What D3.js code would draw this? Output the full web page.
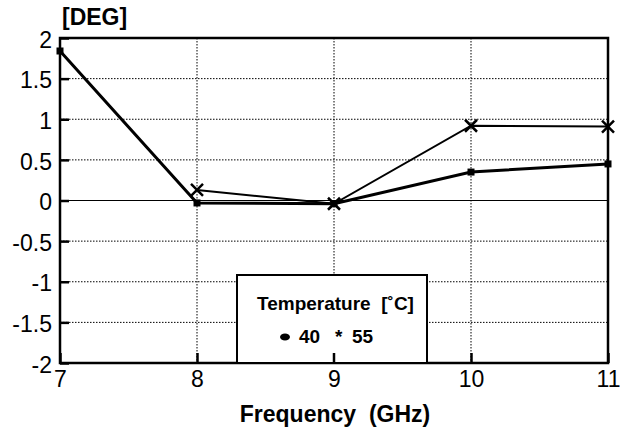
<!DOCTYPE html>
<html><head><meta charset="utf-8">
<script src="https://cdn.jsdelivr.net/npm/d3@7"></script>
<style>body{margin:0;background:#fff}svg{display:block}text{font-family:"Liberation Sans",Arial,sans-serif;fill:#000}</style>
</head><body><svg id="c" width="620" height="429"></svg>
<script>
const freqs = [7, 8, 9, 10, 11];
const s40 = [1.84, -0.03, -0.04, 0.35, 0.45];
const s55 = [null, 0.13, -0.04, 0.92, 0.91];
const yTicks = [-2, -1.5, -1, -0.5, 0, 0.5, 1, 1.5, 2];
const xTicks = [7, 8, 9, 10, 11];
const yLabel = "[DEG]";
const xLabel = "Frequency  (GHz)";
const legendTitle = "Temperature  [˚C]";
const legendLabels = ["40", "*", "55"];

const svg = d3.select("#c");
const L = 60, R = 608, T = 38, B = 363;
const x = d3.scaleLinear().domain([7, 11]).range([L, R]);
const y = d3.scaleLinear().domain([-2, 2]).range([B, T]);

// grid
const g = svg.append("g");
g.selectAll(".hg").data(yTicks.filter(d => d !== 0 && d !== 2 && d !== -2)).join("line")
  .attr("x1", L).attr("x2", R).attr("y1", d => y(d)).attr("y2", d => y(d))
  .attr("stroke", "#000").attr("stroke-width", 1).attr("stroke-dasharray", "1.5,1.5");
g.selectAll(".vg").data(xTicks.slice(1, -1)).join("line")
  .attr("x1", d => x(d)).attr("x2", d => x(d)).attr("y1", T).attr("y2", B)
  .attr("stroke", "#000").attr("stroke-width", 1).attr("stroke-dasharray", "1.5,1.5");
g.append("line").attr("x1", L).attr("x2", R).attr("y1", y(0)).attr("y2", y(0)).attr("stroke", "#000").attr("stroke-width", 1);

// frame
svg.append("rect").attr("x", L).attr("y", T).attr("width", R - L).attr("height", B - T)
  .attr("fill", "none").attr("stroke", "#000").attr("stroke-width", 2.5);

// axes (ticks inside)
const fmt = d => String(d);
const yAxis = d3.axisLeft(y).tickValues(yTicks).tickSize(-9).tickPadding(8).tickFormat(fmt);
const ya = svg.append("g").attr("transform", `translate(${L},0)`).call(yAxis);
ya.select(".domain").remove();
ya.selectAll(".tick line").attr("stroke-width", 2.5);
ya.selectAll("text").attr("font-size", 23).attr("dy", "0.4em").attr("x", -8)
  .attr("font-family", "Liberation Sans, Arial, sans-serif");

const xAxis = d3.axisBottom(x).tickValues(xTicks).tickSize(-10).tickPadding(8).tickFormat(fmt);
const xa = svg.append("g").attr("transform", `translate(0,${B})`).call(xAxis);
xa.select(".domain").remove();
xa.selectAll(".tick line").attr("stroke-width", 2.5);
xa.selectAll("text").attr("font-size", 23).attr("y", 24).attr("dy", 0)
  .attr("font-family", "Liberation Sans, Arial, sans-serif");

// series
const line = d3.line().x(d => x(d[0])).y(d => y(d[1]));
const d40 = freqs.map((f, i) => [f, s40[i]]);
const d55 = freqs.map((f, i) => [f, s55[i]]).filter(d => d[1] != null);
svg.append("path").datum(d40).attr("d", line).attr("fill", "none").attr("stroke", "#000").attr("stroke-width", 3);
svg.selectAll(".p40").data(d40).join("rect")
  .attr("x", d => x(d[0]) - 3.5).attr("y", d => y(d[1]) - 3.5).attr("width", 7).attr("height", 7).attr("fill", "#000");
svg.append("path").datum(d55).attr("d", line).attr("fill", "none").attr("stroke", "#000").attr("stroke-width", 2);
svg.selectAll(".p55").data(d55).join("path")
  .attr("d", d => { const cx = x(d[0]), cy = y(d[1]), r = 6; return `M${cx-r},${cy-r}L${cx+r},${cy+r}M${cx-r},${cy+r}L${cx+r},${cy-r}`; })
  .attr("stroke", "#000").attr("stroke-width", 2.5).attr("fill", "none");

// legend
const lx = 237, ly = 275, lw = 190, lh = B - 275;
svg.append("rect").attr("x", lx).attr("y", ly).attr("width", lw).attr("height", lh)
  .attr("fill", "#fff").attr("stroke", "#000").attr("stroke-width", 2);
svg.append("text").attr("x", lx + 20).attr("y", ly + 35).attr("font-size", 19).attr("font-weight", "bold")
  .attr("xml:space", "preserve").text(legendTitle);
svg.append("ellipse").attr("cx", lx + 48).attr("cy", ly + 62).attr("rx", 5).attr("ry", 3.5).attr("fill", "#000");
svg.append("text").attr("x", lx + 62).attr("y", ly + 68).attr("font-size", 19).attr("font-weight", "bold").text(legendLabels[0]);
svg.append("text").attr("x", lx + 98).attr("y", ly + 68).attr("font-size", 19).attr("font-weight", "bold").text(legendLabels[1]);
svg.append("text").attr("x", lx + 115).attr("y", ly + 68).attr("font-size", 19).attr("font-weight", "bold").text(legendLabels[2]);
svg.append("line").attr("x1", x(9)).attr("x2", x(9)).attr("y1", B).attr("y2", B - 10).attr("stroke", "#000").attr("stroke-width", 2.5);

// labels
svg.append("text").attr("x", 62).attr("y", 25).attr("font-size", 23).attr("font-weight", "bold").text(yLabel);
svg.append("text").attr("x", 335).attr("y", 422).attr("text-anchor", "middle").attr("font-size", 23).attr("font-weight", "bold")
  .attr("xml:space", "preserve").text(xLabel);
</script></body></html>
